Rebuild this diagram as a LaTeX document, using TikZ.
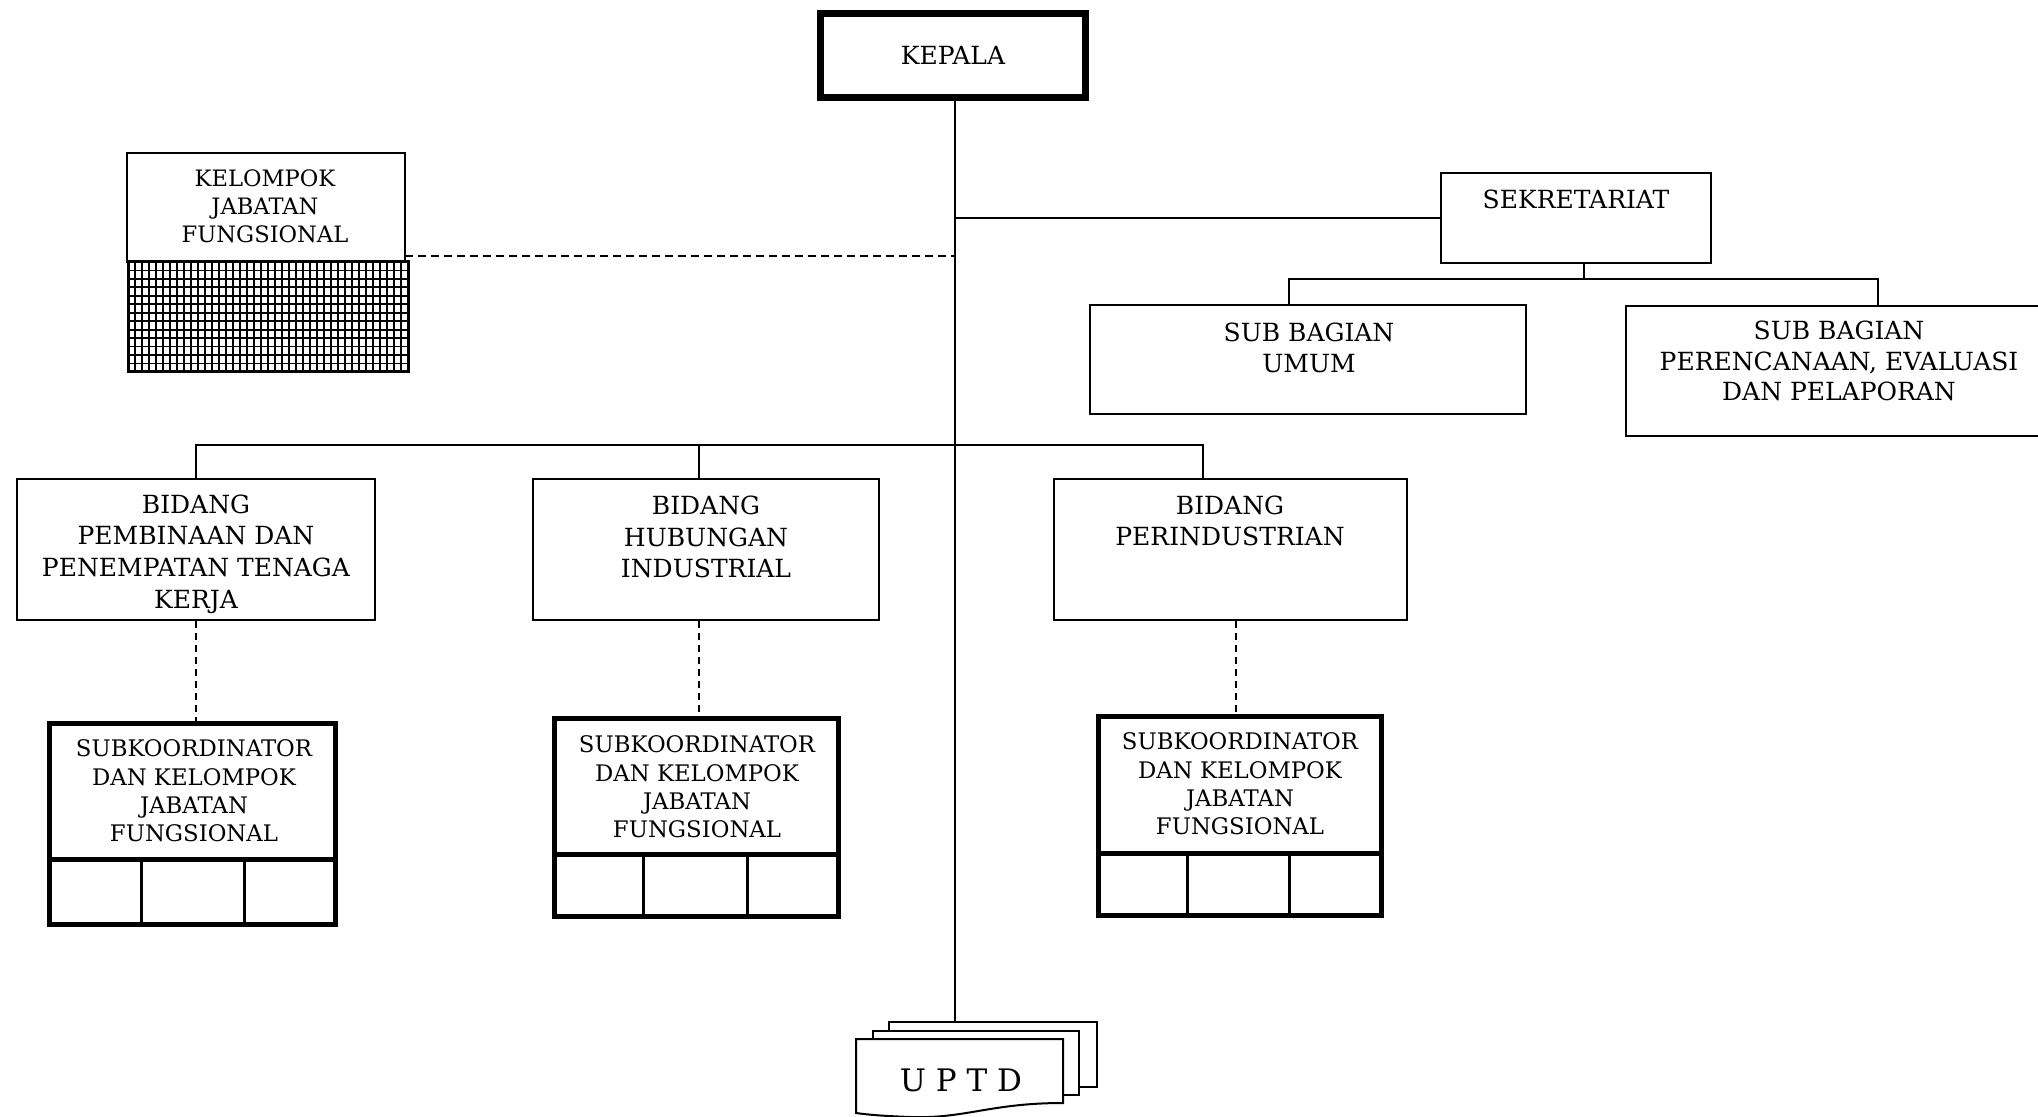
\documentclass[tikz,border=0pt]{standalone}
\usepackage{fontspec}
\setmainfont{DejaVu Serif}
\usetikzlibrary{fit}
\begin{document}
\begin{tikzpicture}[x=0.5pt,y=-0.5pt,
  box/.style={draw, line width=1pt, inner sep=0pt},
  headbox/.style={draw, line width=3.5pt, inner sep=0pt},
  subbox/.style={draw, line width=2.5pt, inner sep=0pt},
  lbl/.style={align=center, inner sep=0pt, font=\fontsize{12.5}{15.8}\selectfont},
  slbl/.style={align=center, inner sep=0pt, font=\fontsize{11.4}{14.2}\selectfont},
  conn/.style={line width=1pt},
  dconn/.style={line width=1pt, dash pattern=on 3.5pt off 2.5pt},
  hdconn/.style={line width=1pt, dash pattern=on 4pt off 2.5pt},
  sheet/.style={draw, fill=white, line width=1pt}]
\useasboundingbox (0,0) rectangle (2038,1117);
\fill[white] (0,0) rectangle (2038,1117);

% head
\node[headbox, fit={(820.5,13.5)(1085.5,97.5)}] (kepala) {};
\node[lbl] (kepalat) at (953,55) {KEPALA};

% secretariat and its sub-sections
\node[box, fit={(1441,173)(1711,263)}] (sek) {};
\node[lbl] (sekt) at (1576,199) {SEKRETARIAT};
\node[box, fit={(1090,305)(1526,414)}] (umum) {};
\node[lbl] (umumt) at (1309,348) {SUB BAGIAN\\UMUM};
\node[box, fit={(1626,306)(2050,436)}] (peren) {};
\node[lbl, font=\fontsize{12.5}{15.3}\selectfont] (perent) at (1839,361) {SUB BAGIAN\\PERENCANAAN, EVALUASI\\DAN PELAPORAN};

% functional group with hatched panel
\node[box, fit={(127,153)(405,262)}] (kel) {};
\node[slbl, font=\fontsize{11.3}{14}\selectfont] (kelt) at (265,206) {KELOMPOK\\JABATAN\\FUNGSIONAL};
\node[draw, line width=1.5pt, inner sep=0pt, fit={(128,262)(408,372)}] (kelgrid) {};
\foreach \x in {135,142,...,401} \draw[line width=0.9pt] (\x,262) -- (\x,372);
\foreach \k in {1,...,12} \draw[line width=0.9pt] (128,262+\k*8.46) -- (408,262+\k*8.46);

% divisions
\node[box, fit={(17,479)(375,620)}] (b1) {};
\node[lbl] (b1t) at (196,554) {BIDANG\\PEMBINAAN DAN\\PENEMPATAN TENAGA\\KERJA};
\node[box, fit={(533,479)(879,620)}] (b2) {};
\node[lbl] (b2t) at (706,537) {BIDANG\\HUBUNGAN\\INDUSTRIAL};
\node[box, fit={(1054,479)(1407,620)}] (b3) {};
\node[lbl] (b3t) at (1230,521) {BIDANG\\PERINDUSTRIAN};

% subcoordinator boxes
\node[subbox, fit={(49.5,723.5)(335.5,924.5)}] (s1) {};
\node[slbl] (s1t) at (194,791) {SUBKOORDINATOR\\DAN KELOMPOK\\JABATAN\\FUNGSIONAL};
\draw[line width=2.5pt] (s1.west |- 0,859) -- (s1.east |- 0,859);
\draw[line width=1.5pt] (141,859) -- (141,924.5) (244,859) -- (244,924.5);

\node[subbox, fit={(554.5,718.5)(838.5,916.5)}] (s2) {};
\node[slbl] (s2t) at (697,787) {SUBKOORDINATOR\\DAN KELOMPOK\\JABATAN\\FUNGSIONAL};
\draw[line width=2.5pt] (s2.west |- 0,854) -- (s2.east |- 0,854);
\draw[line width=1.5pt] (643,854) -- (643,916.5) (747,854) -- (747,916.5);

\node[subbox, fit={(1098.5,716.5)(1381.5,915.5)}] (s3) {};
\node[slbl] (s3t) at (1240,784) {SUBKOORDINATOR\\DAN KELOMPOK\\JABATAN\\FUNGSIONAL};
\draw[line width=2.5pt] (s3.west |- 0,853) -- (s3.east |- 0,853);
\draw[line width=1.5pt] (1187,853) -- (1187,915.5) (1289,853) -- (1289,915.5);

% UPTD stacked sheets
\node[sheet, inner sep=0pt, fit={(889,1022)(1097,1087)}] (uptd) {};
\node[sheet, inner sep=0pt, fit={(873,1031)(1079,1095)}] (uptdm) {};
\filldraw[sheet] (856,1039) -- (1063,1039) -- (1063,1103)
  .. controls (990,1103) and (965,1119) .. (910,1117)
  .. controls (885,1116) and (870,1115) .. (856,1113) -- cycle;
\node[inner sep=0pt, font=\fontsize{15.5}{18}\selectfont] (uptdt) at (961,1080) {U P T D};

% connectors
\coordinate (spine) at (955,0);
\draw[conn] (kepala.south -| spine) -- (uptd.north -| spine);
\draw[conn] (sek.west -| spine) -- (sek.west);
\coordinate (sekj) at (1584,279);
\coordinate (umumtop) at (1289,305);
\coordinate (perentop) at (1878,306);
\draw[conn] (sek.south -| sekj) -- (sekj);
\draw[conn] (umumtop) |- (sekj) -| (perentop);

\coordinate (bj) at (955,445);
\coordinate (b1top) at (196,479);
\coordinate (b2top) at (699,479);
\coordinate (b3top) at (1203,479);
\draw[conn] (b1top) |- (bj) -| (b3top);
\draw[conn] (b2top) -- (b2top |- bj);

\coordinate (kd) at (405,256);
\draw[hdconn] (kd) -- (kd -| spine);

\draw[dconn] (b1.south -| 196,0) -- (s1.north -| 196,0);
\draw[dconn] (b2.south -| 699,0) -- (s2.north -| 699,0);
\draw[dconn] (b3.south -| 1236,0) -- (s3.north -| 1236,0);
\end{tikzpicture}
\end{document}
